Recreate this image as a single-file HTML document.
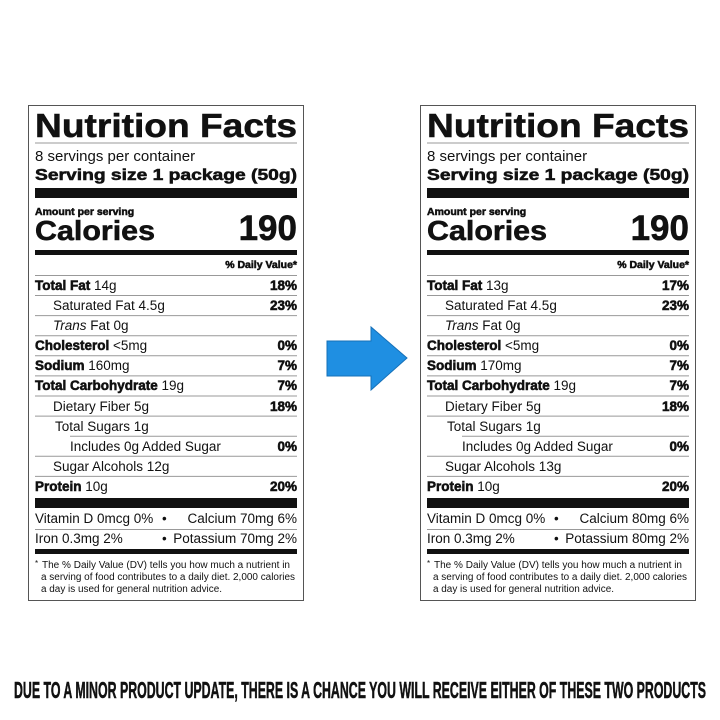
<!DOCTYPE html>
<html><head><meta charset="utf-8"><style>
html,body{margin:0;padding:0;background:#fff;width:720px;height:720px;overflow:hidden}
svg text{font-family:"Liberation Sans",Arial,sans-serif;fill:#111}
.b{font-weight:bold;stroke:#111;stroke-width:0.55}
.r{font-size:13.5px}
</style></head><body>
<svg width="720" height="720" viewBox="0 0 720 720" xmlns="http://www.w3.org/2000/svg">
<rect width="720" height="720" fill="#fff"/>
<defs>
<g id="frame">
<rect x="28.5" y="105.5" width="275" height="495" fill="#fff" stroke="#555" stroke-width="1"/>
<line x1="35" x2="297" y1="143" y2="143" stroke="#999"/>
<rect x="35" y="188" width="262" height="10" fill="#111"/>
<rect x="35" y="250" width="262" height="5" fill="#111"/>
<line x1="35" x2="297" y1="275.5" y2="275.5" stroke="#999"/>
<g stroke="#999">
<line x1="35" x2="297" y1="295.5" y2="295.5"/>
<line x1="35" x2="297" y1="315.6" y2="315.6"/>
<line x1="35" x2="297" y1="335.7" y2="335.7"/>
<line x1="35" x2="297" y1="355.8" y2="355.8"/>
<line x1="35" x2="297" y1="375.9" y2="375.9"/>
<line x1="35" x2="297" y1="396" y2="396"/>
<line x1="35" x2="297" y1="416.1" y2="416.1"/>
<line x1="70" x2="297" y1="436.2" y2="436.2"/>
<line x1="35" x2="297" y1="456.3" y2="456.3"/>
<line x1="35" x2="297" y1="476.4" y2="476.4"/>
<line x1="35" x2="297" y1="529.5" y2="529.5"/>
</g>
<rect x="35" y="498" width="262" height="10" fill="#111"/>
<rect x="35" y="549" width="262" height="5" fill="#111"/>
<text x="35" y="137" class="b" font-size="33" stroke-width="1.3" textLength="262" lengthAdjust="spacingAndGlyphs">Nutrition Facts</text>
<text x="35" y="161" font-size="15">8 servings per container</text>
<text x="35" y="180" class="b" font-size="16" stroke-width="0.7" textLength="262" lengthAdjust="spacingAndGlyphs">Serving size 1 package (50g)</text>
<text x="35" y="215" class="b" font-size="10.5" stroke-width="0.4">Amount per serving</text>
<text x="35" y="240" class="b" font-size="28" stroke-width="1.1" textLength="120" lengthAdjust="spacingAndGlyphs">Calories</text>
<text x="297" y="240" class="b" font-size="35" stroke-width="1.2" text-anchor="end">190</text>
<text x="297" y="268" class="b" font-size="10.5" stroke-width="0.4" text-anchor="end">% Daily Value*</text>
<text x="42" y="568" font-size="10" textLength="248" lengthAdjust="spacingAndGlyphs">The % Daily Value (DV) tells you how much a nutrient in</text>
<text x="35" y="566" font-size="8">*</text>
<text x="41" y="580" font-size="10" textLength="254" lengthAdjust="spacingAndGlyphs">a serving of food contributes to a daily diet. 2,000 calories</text>
<text x="41" y="592" font-size="10" textLength="181" lengthAdjust="spacingAndGlyphs">a day is used for general nutrition advice.</text>
<text x="162" y="523" class="r">•</text>
<text x="162" y="543" class="r">•</text>
</g>
</defs>

<use href="#frame"/>
<g class="r">
<text x="35" y="290"><tspan class="b">Total Fat</tspan> 14g</text><text x="297" y="290" class="b" text-anchor="end">18%</text>
<text x="53" y="310">Saturated Fat 4.5g</text><text x="297" y="310" class="b" text-anchor="end">23%</text>
<text x="53" y="330"><tspan font-style="italic">Trans</tspan> Fat 0g</text>
<text x="35" y="350"><tspan class="b">Cholesterol</tspan> &lt;5mg</text><text x="297" y="350" class="b" text-anchor="end">0%</text>
<text x="35" y="370"><tspan class="b">Sodium</tspan> 160mg</text><text x="297" y="370" class="b" text-anchor="end">7%</text>
<text x="35" y="390"><tspan class="b">Total Carbohydrate</tspan> 19g</text><text x="297" y="390" class="b" text-anchor="end">7%</text>
<text x="53" y="411">Dietary Fiber 5g</text><text x="297" y="411" class="b" text-anchor="end">18%</text>
<text x="55" y="431">Total Sugars 1g</text>
<text x="70" y="451">Includes 0g Added Sugar</text><text x="297" y="451" class="b" text-anchor="end">0%</text>
<text x="53" y="471">Sugar Alcohols 12g</text>
<text x="35" y="491"><tspan class="b">Protein</tspan> 10g</text><text x="297" y="491" class="b" text-anchor="end">20%</text>
<text x="35" y="523">Vitamin D 0mcg 0%</text><text x="297" y="523" text-anchor="end">Calcium 70mg 6%</text>
<text x="35" y="543">Iron 0.3mg 2%</text><text x="297" y="543" text-anchor="end">Potassium 70mg 2%</text>
</g>

<g transform="translate(392,0)">
<use href="#frame"/>
<g class="r">
<text x="35" y="290"><tspan class="b">Total Fat</tspan> 13g</text><text x="297" y="290" class="b" text-anchor="end">17%</text>
<text x="53" y="310">Saturated Fat 4.5g</text><text x="297" y="310" class="b" text-anchor="end">23%</text>
<text x="53" y="330"><tspan font-style="italic">Trans</tspan> Fat 0g</text>
<text x="35" y="350"><tspan class="b">Cholesterol</tspan> &lt;5mg</text><text x="297" y="350" class="b" text-anchor="end">0%</text>
<text x="35" y="370"><tspan class="b">Sodium</tspan> 170mg</text><text x="297" y="370" class="b" text-anchor="end">7%</text>
<text x="35" y="390"><tspan class="b">Total Carbohydrate</tspan> 19g</text><text x="297" y="390" class="b" text-anchor="end">7%</text>
<text x="53" y="411">Dietary Fiber 5g</text><text x="297" y="411" class="b" text-anchor="end">18%</text>
<text x="55" y="431">Total Sugars 1g</text>
<text x="70" y="451">Includes 0g Added Sugar</text><text x="297" y="451" class="b" text-anchor="end">0%</text>
<text x="53" y="471">Sugar Alcohols 13g</text>
<text x="35" y="491"><tspan class="b">Protein</tspan> 10g</text><text x="297" y="491" class="b" text-anchor="end">20%</text>
<text x="35" y="523">Vitamin D 0mcg 0%</text><text x="297" y="523" text-anchor="end">Calcium 80mg 6%</text>
<text x="35" y="543">Iron 0.3mg 2%</text><text x="297" y="543" text-anchor="end">Potassium 80mg 2%</text>
</g>
</g>

<polygon points="327,341 371,341 371,327 407,358 371,390 371,376 327,376" fill="#1f8fe2" stroke="#1670b8" stroke-width="1"/>

<text x="14" y="698" class="b" font-size="23" stroke-width="0.8" textLength="692" lengthAdjust="spacingAndGlyphs">DUE TO A MINOR PRODUCT UPDATE, THERE IS A CHANCE YOU WILL RECEIVE EITHER OF THESE TWO PRODUCTS</text>
</svg>
</body></html>
